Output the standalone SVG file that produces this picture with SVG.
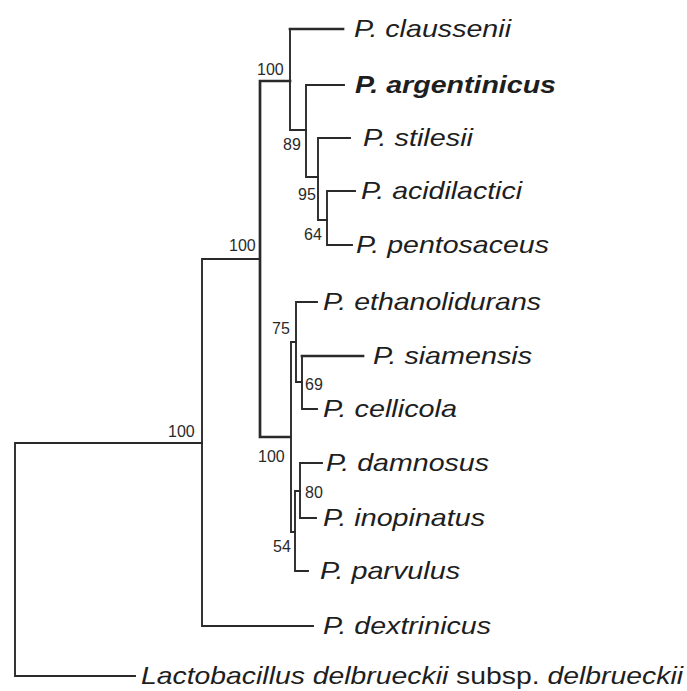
<svg xmlns="http://www.w3.org/2000/svg" width="687" height="691" viewBox="0 0 687 691">
<style>
.br{fill:none;stroke:#2a2a2a;stroke-width:1.9;stroke-linejoin:miter;stroke-linecap:square}
.tk{stroke-width:2.7}
.sp{font-family:"Liberation Sans",Arial,sans-serif;font-style:italic;font-size:24px;fill:#1e1e1e}
.bd{font-weight:bold}
.bs{font-family:"Liberation Sans",Arial,sans-serif;font-size:16px;fill:#2a2a2a}
.up{font-style:normal}
</style>
<rect width="687" height="691" fill="#fff"/>
<g id="connectors">
<path class="br" d="M202,443 H15 V676 H135"/>
<path class="br" d="M260,259 H202 V626 H313"/>
<path class="br tk" d="M290,81 H260 V437 H290"/>
<path class="br" d="M306,130 H290 V29"/>
<path class="br tk" d="M290,29 H343"/>
<path class="br" d="M344,85 H306 V177 H318"/>
<path class="br" d="M350,138 H318 V220 H327"/>
<path class="br" d="M355,191 H327 V245 H352"/>
<path class="br" d="M296,342 H291 V532 H295"/>
<path class="br" d="M317,302 H296 V382 H302"/>
<path class="br" d="M302,356 V409 H317"/>
<path class="br tk" d="M302,356 H363"/>
<path class="br" d="M300,491 H295 V571 H308"/>
<path class="br" d="M322,463 H300 V518 H316"/>
</g>
<g id="leaf-claussenii"><text class="sp" x="354" y="37" textLength="157" lengthAdjust="spacingAndGlyphs">P. claussenii</text></g>
<g id="leaf-argentinicus"><text class="sp bd" x="355" y="93" textLength="201" lengthAdjust="spacingAndGlyphs">P. argentinicus</text></g>
<g id="leaf-stilesii"><text class="sp" x="363" y="146" textLength="110" lengthAdjust="spacingAndGlyphs">P. stilesii</text></g>
<g id="leaf-acidilactici"><text class="sp" x="361" y="199" textLength="161" lengthAdjust="spacingAndGlyphs">P. acidilactici</text></g>
<g id="leaf-pentosaceus"><text class="sp" x="356" y="253" textLength="193" lengthAdjust="spacingAndGlyphs">P. pentosaceus</text></g>
<g id="leaf-ethanolidurans"><text class="sp" x="323" y="310" textLength="218" lengthAdjust="spacingAndGlyphs">P. ethanolidurans</text></g>
<g id="leaf-siamensis"><text class="sp" x="373" y="364" textLength="159" lengthAdjust="spacingAndGlyphs">P. siamensis</text></g>
<g id="leaf-cellicola"><text class="sp" x="323" y="417" textLength="134" lengthAdjust="spacingAndGlyphs">P. cellicola</text></g>
<g id="leaf-damnosus"><text class="sp" x="326" y="471" textLength="163" lengthAdjust="spacingAndGlyphs">P. damnosus</text></g>
<g id="leaf-inopinatus"><text class="sp" x="323" y="526" textLength="162" lengthAdjust="spacingAndGlyphs">P. inopinatus</text></g>
<g id="leaf-parvulus"><text class="sp" x="320" y="579" textLength="140" lengthAdjust="spacingAndGlyphs">P. parvulus</text></g>
<g id="leaf-dextrinicus"><text class="sp" x="323" y="634" textLength="168" lengthAdjust="spacingAndGlyphs">P. dextrinicus</text></g>
<g id="leaf-lactobacillus"><text class="sp" x="141" y="684" textLength="542" lengthAdjust="spacingAndGlyphs">Lactobacillus delbrueckii <tspan class="up">subsp.</tspan> delbrueckii</text></g>
<g id="bs-root"><text class="bs" x="168" y="437">100</text></g>
<g id="bs-ingroup"><text class="bs" x="229" y="251">100</text></g>
<g id="bs-upper"><text class="bs" x="257" y="75">100</text></g>
<g id="bs-89"><text class="bs" x="283" y="150">89</text></g>
<g id="bs-95"><text class="bs" x="298" y="200">95</text></g>
<g id="bs-64"><text class="bs" x="304" y="240">64</text></g>
<g id="bs-75"><text class="bs" x="272" y="334">75</text></g>
<g id="bs-69"><text class="bs" x="305" y="390">69</text></g>
<g id="bs-lower"><text class="bs" x="258" y="462">100</text></g>
<g id="bs-80"><text class="bs" x="305" y="498">80</text></g>
<g id="bs-54"><text class="bs" x="273" y="552">54</text></g>
</svg>
